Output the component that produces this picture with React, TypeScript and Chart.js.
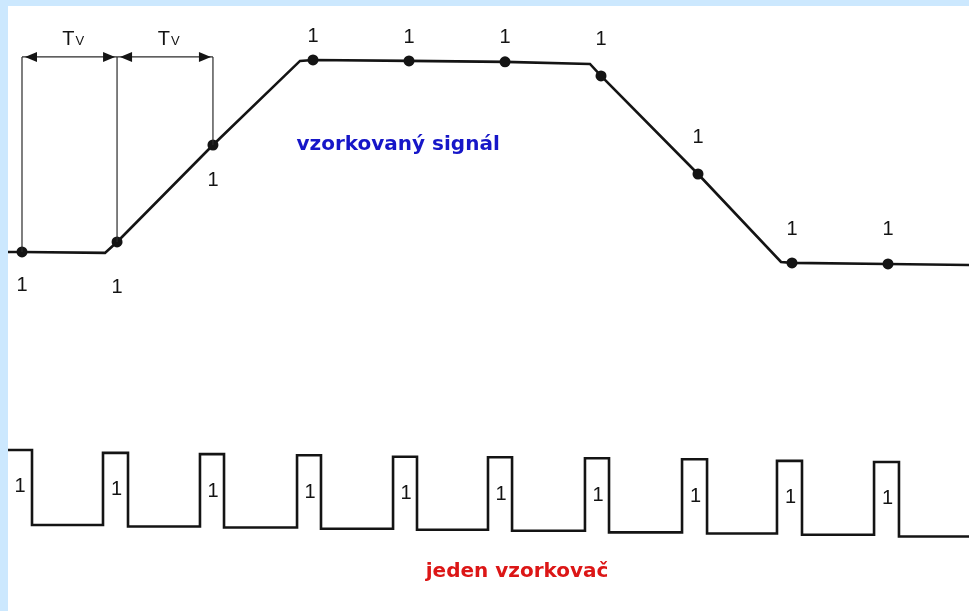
import React, { useEffect, useRef } from "react";
import { Chart, registerables } from "chart.js";

Chart.register(...registerables);

// ---------- data (time in sampling periods Tv, levels normalised) ----------
// sampled signal: vertices of the waveform
const signalT = [-0.146, 0, 0.863, 0.988, 1.985, 2.89, 3.025, 4.023, 5.021, 5.904, 6.019, 7.027, 7.89, 8.004, 9.002, 9.844];
const signalV = [0, 0, -0.005, 0.052, 0.557, 0.995, 1.0, 0.995, 0.99, 0.979, 0.917, 0.406, -0.052, -0.057, -0.0625, -0.068];
const signalIsSample = [false, true, false, true, true, false, true, true, true, false, true, true, false, true, true, false];
const sampleLabels = ["1", "1", "1", "1", "1", "1", "1", "1", "1", "1"];

// sampler pulse train
const pulseRise = [-0.146, 0.842, 1.85, 2.859, 3.857, 4.844, 5.852, 6.861, 7.848, 8.857];
const pulseFall = [0.104, 1.102, 2.1, 3.108, 4.106, 5.094, 6.102, 7.121, 8.108, 9.116];
const pulseHigh = [1.0, 0.962, 0.945, 0.93, 0.909, 0.903, 0.89, 0.877, 0.855, 0.84];
const pulseLow = [0, -0.02, -0.033, -0.05, -0.063, -0.077, -0.098, -0.113, -0.13, -0.153];
const pulseLabels = ["1", "1", "1", "1", "1", "1", "1", "1", "1", "1"];

// Tv dimension brackets
const tvT = [0, 0.988, 1.985];
const tvFoot = [0, 0.052, 0.557];
const tvLevel = 1.016;
const tvLabel = "T";
const tvSub = "V";

const signalTitle = "vzorkovaný signál";
const signalTitlePos = { t: 3.91, v: 0.557 };
const samplerTitle = "jeden vzorkovač";
const samplerTitlePos = { t: 5.146, v: -0.627 };

// axis ranges
const xRange = [-0.1455, 9.844];
const ySignalRange = [-1.87, 1.281];
const yPulseRange = [-1.147, 6.92];

// ---------- styles ----------
const INK = "#141414";
const LABEL_FONT = "20px 'Liberation Sans', Arial, sans-serif";
const sampleLabelOffset = [34, 46, 35, -23, -23, -24, -36, -37, -33, -34];
const pulseLabelOffset = 37;

const annotPlugin = {
  id: "annot",
  afterDatasetsDraw(chart: any) {
    const { ctx, scales } = chart;
    const x = scales.x, y = scales.y, y2 = scales.y2;
    ctx.save();
    ctx.fillStyle = INK;
    // arrowheads
    const head = (px: number, py: number, dir: number) => {
      ctx.beginPath();
      ctx.moveTo(px, py);
      ctx.lineTo(px + dir * 12, py - 5);
      ctx.lineTo(px + dir * 12, py + 5);
      ctx.closePath();
      ctx.fill();
    };
    const yy = y.getPixelForValue(tvLevel);
    for (let i = 0; i < tvT.length - 1; i++) {
      const a = x.getPixelForValue(tvT[i]) + 3;
      const b = x.getPixelForValue(tvT[i + 1]) - 2;
      head(a, yy, 1);
      head(b, yy, -1);
      const mid = (x.getPixelForValue(tvT[i]) + x.getPixelForValue(tvT[i + 1])) / 2 + 4;
      ctx.textBaseline = "alphabetic";
      ctx.font = "20px 'Liberation Sans', Arial, sans-serif";
      ctx.textAlign = "right";
      ctx.fillText(tvLabel, mid + 1, yy - 12);
      ctx.font = "13px 'Liberation Sans', Arial, sans-serif";
      ctx.textAlign = "left";
      ctx.fillText(tvSub, mid + 2, yy - 12);
    }
    // sample labels
    ctx.font = LABEL_FONT;
    ctx.textAlign = "center";
    ctx.textBaseline = "middle";
    let k = 0;
    for (let i = 0; i < signalT.length; i++) {
      if (!signalIsSample[i]) continue;
      const px = x.getPixelForValue(signalT[i]);
      const py = y.getPixelForValue(signalV[i]) + sampleLabelOffset[k];
      ctx.fillText(sampleLabels[k], px, py);
      k++;
    }
    // pulse labels
    for (let i = 0; i < pulseRise.length; i++) {
      const start = Math.max(pulseRise[i], xRange[0]);
      const px = x.getPixelForValue((start + pulseFall[i]) / 2) + (i === 0 ? 0 : 1);
      const py = y2.getPixelForValue(pulseHigh[i]) + pulseLabelOffset;
      ctx.fillText(pulseLabels[i], px, py);
    }
    // titles
    ctx.font = "bold 20px 'DejaVu Sans', sans-serif";
    ctx.fillStyle = "#1616c8";
    ctx.fillText(signalTitle, x.getPixelForValue(signalTitlePos.t), y.getPixelForValue(signalTitlePos.v));
    ctx.fillStyle = "#dc1616";
    ctx.fillText(samplerTitle, x.getPixelForValue(samplerTitlePos.t), y2.getPixelForValue(samplerTitlePos.v));
    ctx.restore();
  },
};

export default function App() {
  const ref = useRef<HTMLCanvasElement | null>(null);
  useEffect(() => {
    if (!ref.current) return;
    const signalData = signalT.map((t, i) => ({ x: t, y: signalV[i] }));
    const pulseData: { x: number; y: number }[] = [];
    for (let i = 0; i < pulseRise.length; i++) {
      if (i > 0) pulseData.push({ x: pulseRise[i], y: pulseLow[i - 1] });
      pulseData.push({ x: pulseRise[i], y: pulseHigh[i] });
      pulseData.push({ x: pulseFall[i], y: pulseHigh[i] });
      pulseData.push({ x: pulseFall[i], y: pulseLow[i] });
    }
    pulseData.push({ x: xRange[1], y: pulseLow[pulseLow.length - 1] });

    const thin = (data: { x: number; y: number }[]) => ({
      data,
      yAxisID: "y",
      borderColor: "#2a2a2a",
      borderWidth: 1.2,
      pointRadius: 0,
      tension: 0,
    });
    const tvDatasets: any[] = [];
    for (let i = 0; i < tvT.length; i++) {
      tvDatasets.push(thin([{ x: tvT[i], y: tvFoot[i] }, { x: tvT[i], y: tvLevel }]));
    }
    for (let i = 0; i < tvT.length - 1; i++) {
      tvDatasets.push(thin([{ x: tvT[i], y: tvLevel }, { x: tvT[i + 1], y: tvLevel }]));
    }

    const chart = new Chart(ref.current, {
      type: "line",
      data: {
        datasets: [
          ...tvDatasets,
          {
            data: signalData,
            yAxisID: "y",
            borderColor: INK,
            borderWidth: 2.6,
            tension: 0,
            pointRadius: signalIsSample.map((s) => (s ? 5.5 : 0)),
            pointBackgroundColor: INK,
            pointBorderColor: INK,
            pointBorderWidth: 0,
          },
          {
            data: pulseData,
            yAxisID: "y2",
            borderColor: INK,
            borderWidth: 2.6,
            borderJoinStyle: "miter",
            tension: 0,
            pointRadius: 0,
          },
        ],
      },
      options: {
        responsive: false,
        animation: false,
        events: [],
        layout: { padding: 0 },
        plugins: { legend: { display: false }, tooltip: { enabled: false } },
        scales: {
          x: { type: "linear", display: false, min: xRange[0], max: xRange[1] },
          y: { type: "linear", display: false, min: ySignalRange[0], max: ySignalRange[1] },
          y2: { type: "linear", display: false, min: yPulseRange[0], max: yPulseRange[1] },
        },
      } as any,
      plugins: [annotPlugin],
    });
    return () => chart.destroy();
  }, []);

  return (
    <div
      style={{
        position: "fixed",
        left: 0,
        top: 0,
        width: 969,
        height: 611,
        background: "#cce8fe",
        overflow: "hidden",
      }}
    >
      <canvas
        ref={ref}
        width={961}
        height={605}
        style={{ position: "absolute", left: 8, top: 6, background: "#ffffff" }}
      />
    </div>
  );
}
